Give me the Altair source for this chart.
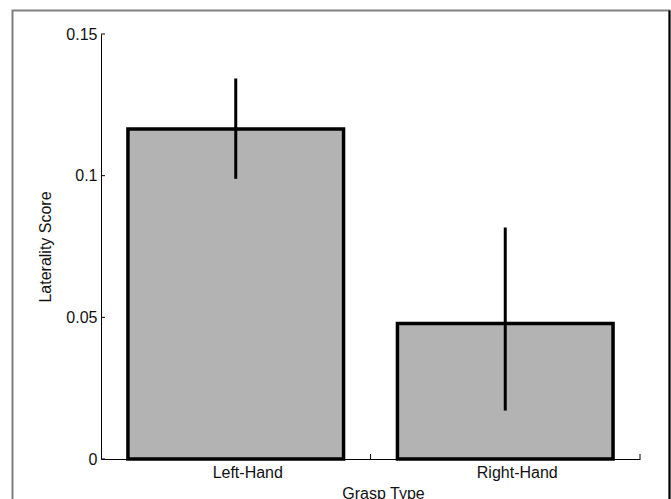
import altair as alt
import pandas as pd

categories = ["Left-Hand", "Right-Hand"]
means = [0.1165, 0.0478]
err_low = [0.0989, 0.0171]
err_high = [0.1343, 0.0817]
y_ticks = [0, 0.05, 0.1, 0.15]

df = pd.DataFrame({"grasp": categories, "score": means, "lo": err_low, "hi": err_high})
ticks_df = pd.DataFrame({"v": y_ticks})
frame_df = pd.DataFrame({"k": [0]})

W, H = 539, 425
FONT = "Liberation Sans"

xscale = alt.Scale(domain=categories, paddingInner=0, paddingOuter=0)
yscale = alt.Scale(domain=[0, 0.15], nice=False, zero=True)

xaxis = alt.Axis(title="Grasp Type", labelAngle=0, ticks=False, tickSize=0,
                 labelOffset=12, labelPadding=5, titlePadding=5, titleX=282,
                 domainColor="black", domainWidth=1, grid=False)
yaxis = alt.Axis(title="Laterality Score", values=y_ticks, format=".2~f",
                 ticks=False, tickSize=0, labelPadding=4, titlePadding=12,
                 domainColor="black", domainWidth=1, grid=False)

bars = alt.Chart(df).mark_bar(
    fill="#b3b3b3", stroke="black", strokeWidth=3.5, width=alt.RelativeBandSize(0.8)
).encode(
    x=alt.X("grasp:N", scale=xscale, sort=categories, axis=xaxis),
    y=alt.Y("score:Q", scale=yscale, axis=yaxis),
)

errs = alt.Chart(df).mark_rule(color="black", strokeWidth=3).encode(
    x=alt.X("grasp:N", scale=xscale, sort=categories, axis=xaxis),
    y=alt.Y("lo:Q", scale=yscale, axis=yaxis),
    y2="hi:Q",
)

xticks = alt.Chart(df).mark_rule(color="black", strokeWidth=1).encode(
    x=alt.X("grasp:N", scale=xscale, sort=categories, bandPosition=1, axis=xaxis),
    y=alt.value(H),
    y2=alt.value(H - 5),
)

yticks = alt.Chart(ticks_df).mark_rule(color="black", strokeWidth=1).encode(
    y=alt.Y("v:Q", scale=yscale, axis=yaxis),
    x=alt.value(0),
    x2=alt.value(4),
)

frame = alt.Chart(frame_df).mark_rect(fill="transparent", stroke="#808080", strokeWidth=2).encode(
    x=alt.value(-88.5), x2=alt.value(568.5), y=alt.value(-23.5), y2=alt.value(480)
)
frame_right = alt.Chart(frame_df).mark_rule(color="black", strokeWidth=2).encode(
    x=alt.value(568.5), y=alt.value(-23.5), y2=alt.value(480)
)

chart = alt.layer(frame, frame_right, bars, errs, xticks, yticks).properties(
    width=W, height=H,
    padding={"left": 101, "top": 34, "right": 31, "bottom": 40},
    autosize=alt.AutoSizeParams(type="none"),
    background="white",
).configure_view(stroke="transparent").configure_axis(
    labelFont=FONT, titleFont=FONT, labelFontSize=16, titleFontSize=16,
    labelColor="#111", titleColor="#111", titleFontWeight="normal",
)

chart.save("out.html", embed_options={"renderer": "svg", "actions": False})
